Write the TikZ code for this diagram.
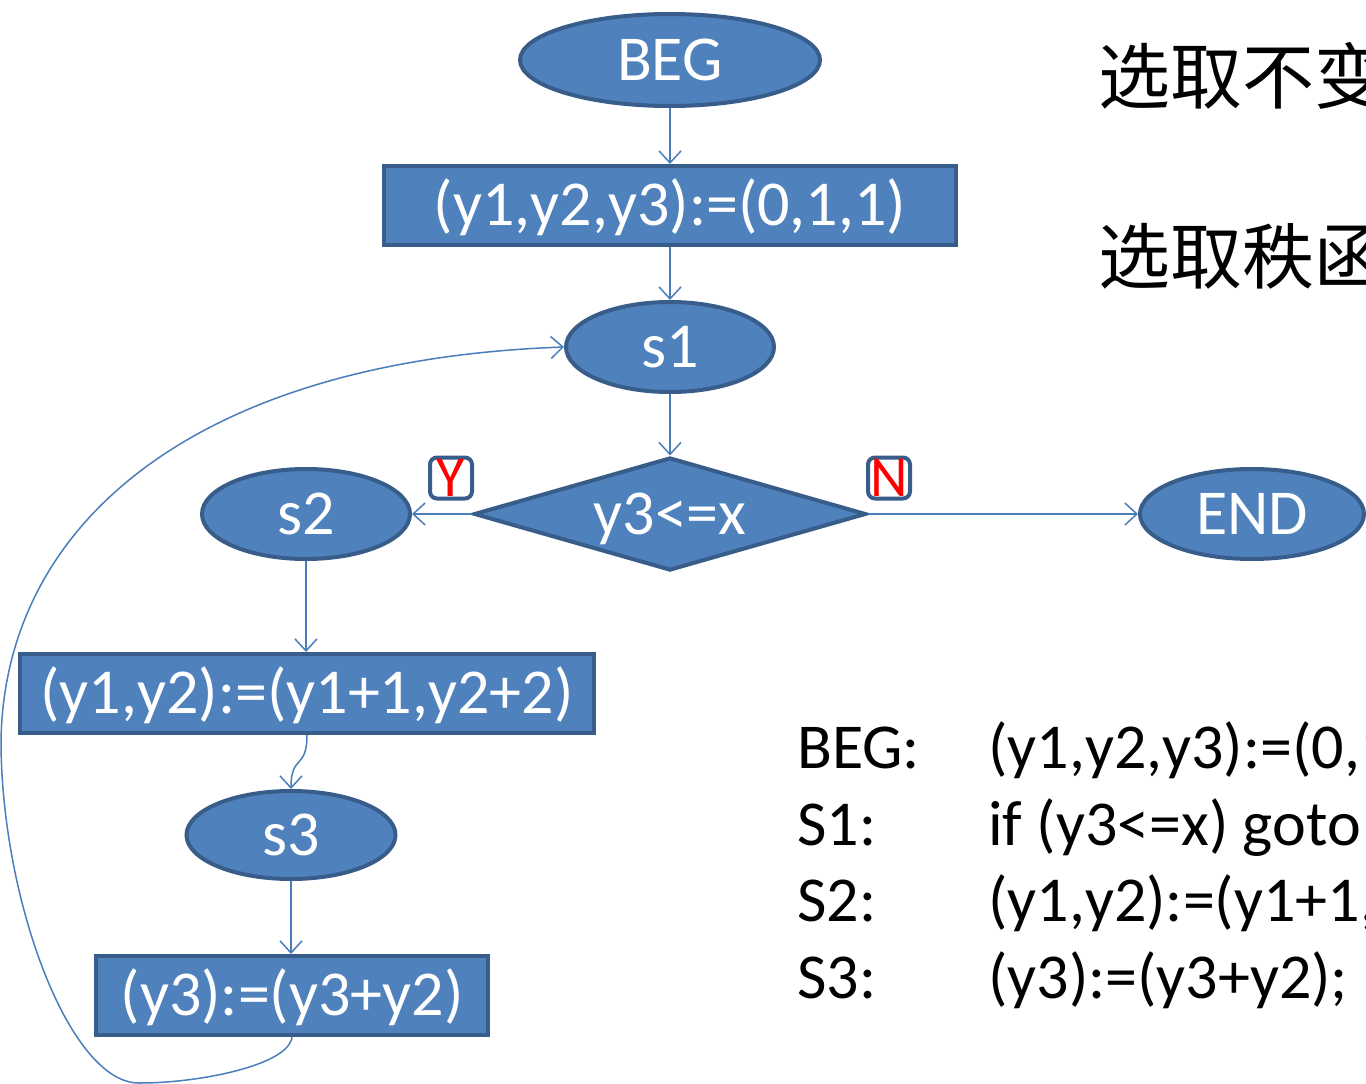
\documentclass[tikz,border=0pt]{standalone}
\usepackage{fontspec}
\setmainfont{Carlito}
\newfontfamily\cjk{Noto Sans CJK SC}
\usetikzlibrary{shapes.geometric,arrows.meta}
\definecolor{fillblue}{HTML}{4F81BD}
\definecolor{edgeblue}{HTML}{385D8A}
\definecolor{lineblue}{HTML}{4A7EBB}
\begin{document}
\begin{tikzpicture}[x=1pt,y=-1pt,
  base/.style={fill=fillblue,draw=edgeblue,line width=4pt,text=white,inner sep=0pt,text height=40pt,text depth=0pt,font=\fontsize{64}{70}\selectfont},
  oval/.style={base,ellipse},
  box/.style={base,rectangle},
  dec/.style={base,diamond,aspect=3.47},
  arr/.style={draw=lineblue,line width=1.5pt,-{Straight Barb[length=12pt,width=22pt]}},
  tag/.style={draw=edgeblue,fill=white,line width=4pt,rounded corners=7pt,minimum width=42pt,minimum height=41pt,inner sep=0pt,text height=36pt,text depth=0pt,text=red,font=\fontsize{58}{60}\selectfont},
  code/.style={anchor=base west,inner sep=0pt,font=\fontsize{64}{70}\selectfont},
  cn/.style={anchor=base west,inner sep=0pt,font=\cjk\fontsize{72}{80}\selectfont}]
\useasboundingbox (0,0) rectangle (1366,1084);
\clip (0,0) rectangle (1366,1084);

\node[oval,minimum width=300pt,minimum height=92pt] (beg) at (670,60) {BEG};
\node[box,minimum width=572pt,minimum height=79pt] (b1) at (670,205.5) {(y1,y2,y3):=(0,1,1)};
\node[oval,minimum width=208pt,minimum height=90pt] (s1) at (670,347) {s1};
\node[dec,minimum width=392pt,minimum height=113pt] (d) at (670,514) {y3<=x};
\node[oval,minimum width=208pt,minimum height=90pt] (s2) at (306,514) {s2};
\node[oval,minimum width=224pt,minimum height=90pt] (end) at (1252,514) {END};
\node[box,minimum width=574pt,minimum height=79pt] (b2) at (307,693.5) {(y1,y2):=(y1+1,y2+2)};
\node[oval,minimum width=209pt,minimum height=88pt] (s3) at (291,835) {s3};
\node[box,minimum width=392pt,minimum height=79pt] (b3) at (292,995.5) {(y3):=(y3+y2)};

\node[tag] (ty) at (451,478) {Y};
\node[tag] (tn) at (889,478) {N};

\draw[arr] (beg) -- (b1);
\draw[arr] (b1) -- (s1);
\draw[arr] (s1.south) -- (d.north);
\draw[arr] (d.west) -- (s2.east);
\draw[arr] (d.east) -- (end.west);
\draw[arr] (s2.south) -- (s2.south |- b2.north);
\draw[arr] (b2.south) .. controls +(0,35) and +(0,-35) .. (s3.north);
\draw[arr] (s3.south) -- (s3.south |- b3.north);
\draw[arr] (b3.south) .. controls (289,1065) and (200,1083) .. (140,1083)
  .. controls (70,1085) and (1,900) .. (1,740)
  .. controls (5,520) and (200,360) .. (s1.west);

\node[cn] (c1) at (1098,103) {选取不变式};
\node[cn] (c2) at (1098,283) {选取秩函数};

\node[code] (l1) at (797,768) {BEG:};
\node[code] (r1) at (988,768) {(y1,y2,y3):=(0,1,1);};
\node[code] (l2) at (797,845) {S1:};
\node[code] (r2) at (988,845) {if (y3<=x) goto END;};
\node[code] (l3) at (797,921) {S2:};
\node[code] (r3) at (988,921) {(y1,y2):=(y1+1,y2+2);};
\node[code] (l4) at (797,998) {S3:};
\node[code] (r4) at (988,998) {(y3):=(y3+y2);};
\end{tikzpicture}
\end{document}
